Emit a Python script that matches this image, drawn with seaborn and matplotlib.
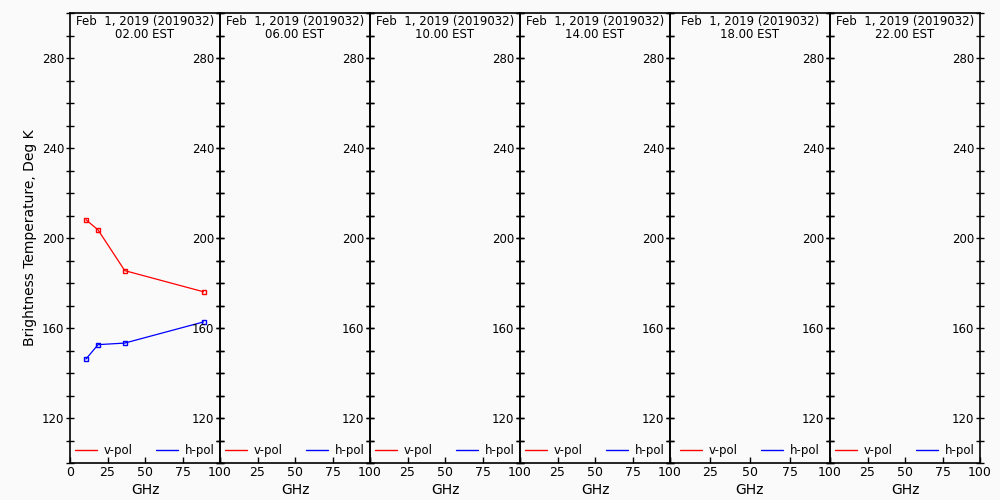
import pandas as pd
import matplotlib
matplotlib.use("Agg")
import matplotlib.pyplot as plt
from matplotlib.lines import Line2D
from matplotlib.ticker import MultipleLocator
import seaborn as sns

# channel frequencies (GHz) and brightness temperatures (K)
freqs = [10.65, 18.7, 36.5, 89.0]
vpol = [208.1, 203.6, 185.5, 176.1]
hpol = [146.2, 152.6, 153.3, 162.7]

date_label = "Feb  1, 2019 (2019032)"
hours = ["02.00", "06.00", "10.00", "14.00", "18.00", "22.00"]
# only the first time slot has observations
obs = {"02.00": (vpol, hpol)}

colors = {"v-pol": "red", "h-pol": "blue"}
yticks = [120, 160, 200, 240, 280]

sns.set_theme(style="white")
plt.rcParams["font.family"] = ["DejaVu Sans"]
plt.rcParams["text.color"] = "black"
plt.rcParams["axes.labelcolor"] = "black"
plt.rcParams["xtick.color"] = "black"
plt.rcParams["ytick.color"] = "black"
bg = "#fafafa"

fig = plt.figure(figsize=(10, 5), dpi=100, facecolor=bg)

# panel left edges / widths in pixels (the 5th one is a bit wider)
lefts = [70, 220, 370, 520, 670, 830]
widths = [150, 150, 150, 150, 160, 150]

for i, hr in enumerate(hours):
    ax = fig.add_axes([lefts[i] / 1000, 37 / 500, widths[i] / 1000, 450 / 500])
    ax.patch.set_visible(False)

    if hr in obs:
        v, h = obs[hr]
        df = pd.DataFrame({
            "GHz": freqs * 2,
            "Tb": v + h,
            "pol": ["v-pol"] * len(freqs) + ["h-pol"] * len(freqs),
        })
        sns.lineplot(data=df, x="GHz", y="Tb", hue="pol", palette=colors,
                     marker="s", markersize=3.5, linewidth=0.9, ax=ax,
                     legend=False)
        for ln in ax.lines:
            ln.set_markerfacecolor("none")
            ln.set_markeredgecolor(ln.get_color())
            ln.set_markeredgewidth(1.0)

    ax.set_xlim(0, 100)
    ax.set_ylim(100, 300)
    ax.yaxis.set_minor_locator(MultipleLocator(10))
    ax.set_yticks(yticks)
    ax.set_xticks([0, 25, 50, 75, 100])
    if i > 0:
        ax.set_xticklabels(["", "25", "50", "75", "100"])

    for s in ax.spines.values():
        s.set_color("black")
        s.set_linewidth(1.2)

    ax.tick_params(axis="x", which="both", direction="in", length=4, width=1,
                   labelsize=9, pad=2, top=False, bottom=True)
    # left labels sit outside the panel (i.e. inside the neighbour on the left)
    ax.tick_params(axis="y", which="both", direction="inout", length=6, width=1,
                   left=True, right=True, labelleft=True, labelright=False,
                   labelsize=8.5, pad=1)

    ax.set_xlabel("GHz", fontsize=10, labelpad=3)
    ax.set_ylabel("Brightness Temperature, Deg K" if i == 0 else "", fontsize=10)

    ax.text(0.5, 0.995, f"{date_label}\n{hr} EST", transform=ax.transAxes,
            ha="center", va="top", fontsize=8.5, linespacing=1.0)

    handles = [Line2D([], [], color=colors[k], linewidth=1) for k in colors]
    ax.legend(handles, list(colors), loc="lower center", ncol=2, frameon=False,
              fontsize=8.5, handlelength=1.8, columnspacing=2.0,
              handletextpad=0.6, bbox_to_anchor=(0.5, -0.01))

# labels along the right edge of the last panel
lab = fig.add_axes([980 / 1000, 37 / 500, 0.001, 450 / 500])
lab.patch.set_visible(False)
lab.set_ylim(100, 300)
lab.set_yticks(yticks)
lab.set_xticks([])
for s in lab.spines.values():
    s.set_visible(False)
lab.tick_params(axis="y", length=0, labelsize=8.5, pad=4)

fig.savefig("out.png", dpi=100, facecolor=bg)
